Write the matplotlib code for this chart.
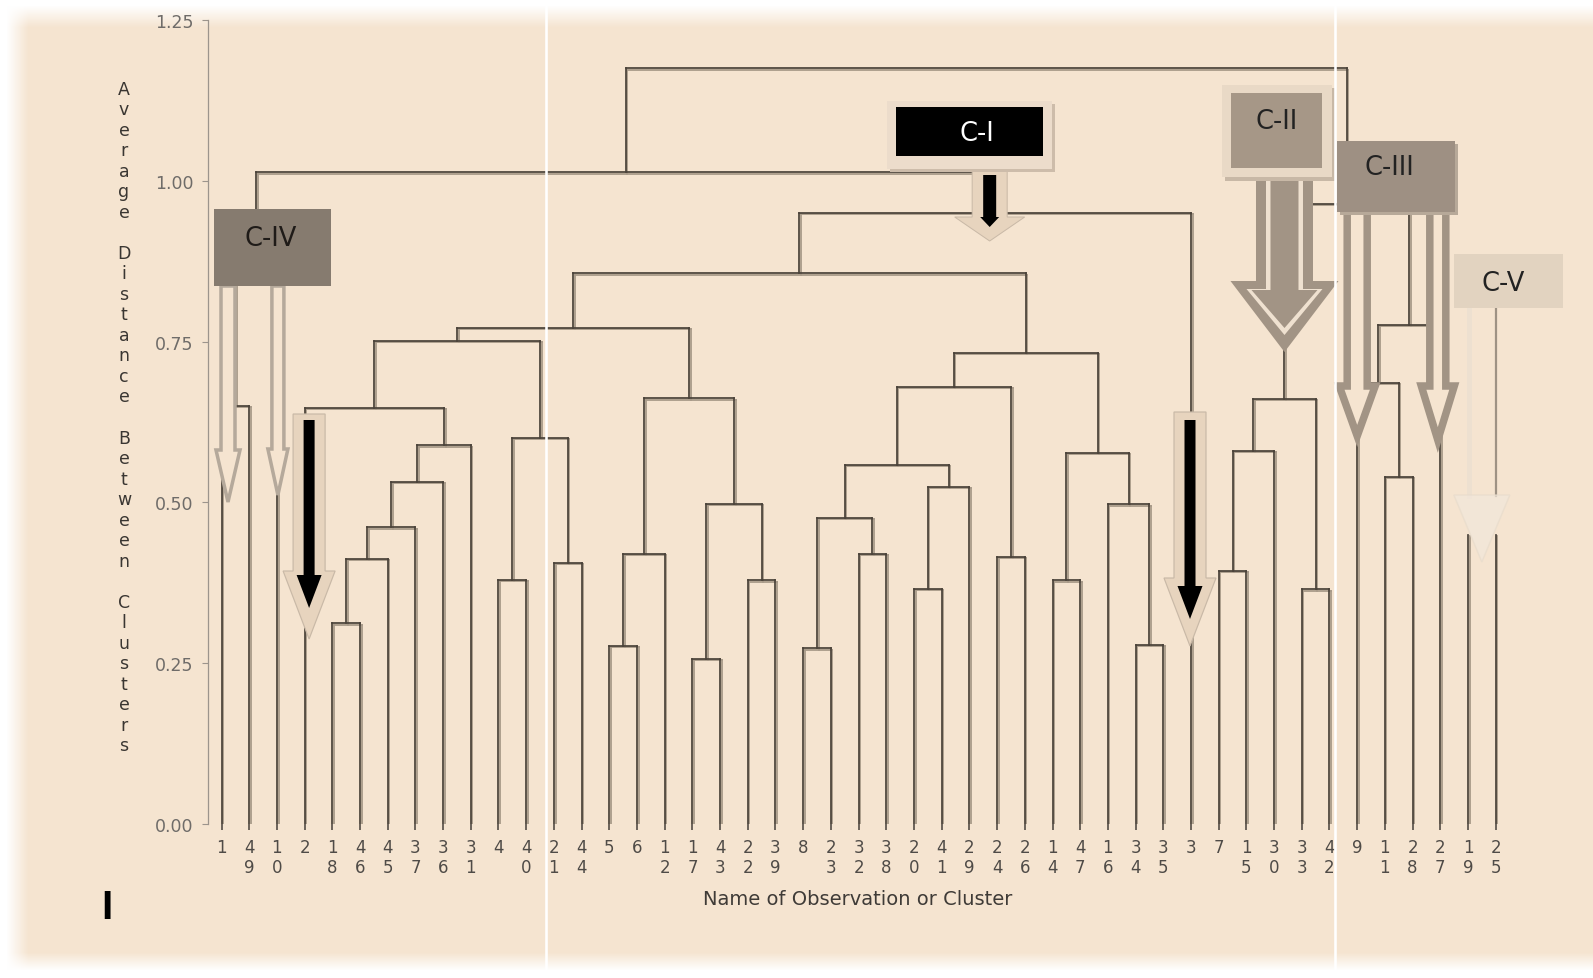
import numpy as np
import matplotlib
matplotlib.use("Agg")
import matplotlib.pyplot as plt
from matplotlib.patches import Polygon, Rectangle
from matplotlib.collections import LineCollection
import matplotlib.transforms as mtransforms

# ---------------- data ----------------
leaf_labels = ['1', '49', '10', '2', '18', '46', '45', '37', '36', '31', '4', '40',
               '21', '44', '5', '6', '12', '17', '43', '22', '39', '8', '23', '32',
               '38', '20', '41', '29', '24', '26', '14', '47', '16', '34', '35', '3',
               '7', '15', '30', '33', '42', '9', '11', '28', '27', '19', '25']

# merges: (cluster a, cluster b, height); 'Mk' refers to the k-th merge
merge_a = ['1', 'M0', '18', 'M2', 'M3', 'M4', 'M5', '2', '4', '21', 'M8', 'M7',
           '5', 'M12', '17', '22', 'M14', 'M13', 'M11', '8', '32', 'M19', '20', 'M22',
           'M21', '24', 'M24', '14', '34', '16', 'M27', 'M26', 'M18', 'M32', 'M1',
           '7', 'M35', '33', 'M36', '11', '9', 'M40', 'M38', 'M34']
merge_b = ['49', '10', '46', '45', '37', '36', '31', 'M6', '40', '44', 'M9', 'M10',
           '6', '12', '43', '39', 'M15', 'M16', 'M17', '23', '38', 'M20', '41', '29',
           'M23', '26', 'M25', '47', '35', 'M28', 'M29', 'M30', 'M31', '3', 'M33',
           '15', '30', '42', 'M37', '28', 'M39', '27', 'M41', 'M42']
merge_h = [0.650, 0.900, 0.312, 0.412, 0.461, 0.532, 0.589, 0.647, 0.380, 0.406, 0.600, 0.751,
           0.277, 0.420, 0.257, 0.379, 0.498, 0.662, 0.771, 0.273, 0.420, 0.476, 0.366, 0.524,
           0.558, 0.415, 0.680, 0.379, 0.279, 0.497, 0.577, 0.733, 0.856, 0.950, 1.013,
           0.394, 0.580, 0.365, 0.661, 0.540, 0.686, 0.776, 0.964, 1.175]

# leaves not joined in the drawn tree (cluster C-V), with their stub heights
stub_labels = ['19', '25']
stub_heights = [0.45, 0.45]

y_ticks = [0.00, 0.25, 0.50, 0.75, 1.00, 1.25]
cluster_names = ['C-I', 'C-II', 'C-III', 'C-IV', 'C-V']

# ---------------- figure ----------------
W, H = 1593, 979
fig = plt.figure(figsize=(W / 100, H / 100), dpi=100)
fig.patch.set_facecolor('white')
BEIGE = '#F5E4D0'
beige_rgb = np.array(matplotlib.colors.to_rgb(BEIGE))

# background with soft white edges
bg = fig.add_axes([0, 0, 1, 1], zorder=-5)
bg.set_axis_off()
xx = np.arange(W)[None, :]
yy = np.arange(H)[:, None]
def ramp(d, a, b):
    return np.clip((d - a) / (b - a), 0, 1)
mask = ramp(xx, 6, 28) * ramp(yy, 6, 28) * ramp(H - yy, 8, 26)
img = 1 - mask[..., None] * (1 - beige_rgb[None, None, :])
bg.imshow(img, extent=[0, W, H, 0], aspect='auto', interpolation='bilinear')
bg.set_xlim(0, W); bg.set_ylim(H, 0)

# main axes
x_left, x_right = -0.5, 47.6
x0_px, step = 221.5, 27.7
ax_l = x0_px + x_left * step
ax_r = x0_px + x_right * step
ax_bot, ax_top = 825, 21
ax = fig.add_axes([ax_l / W, (H - ax_bot) / H, (ax_r - ax_l) / W, (ax_bot - ax_top) / H])
ax.set_facecolor('none')
ax.set_xlim(x_left, x_right)
ax.set_ylim(0, 1.25)

# build dendrogram geometry
pos = {lab: float(i) for i, lab in enumerate(leaf_labels)}
hgt = {lab: 0.0 for lab in leaf_labels}
segs = []
for k, (a, b, h) in enumerate(zip(merge_a, merge_b, merge_h)):
    xa, ya, xb, yb = pos[a], hgt[a], pos[b], hgt[b]
    segs += [[(xa, ya), (xa, h)], [(xb, yb), (xb, h)], [(xa, h), (xb, h)]]
    pos[f'M{k}'] = (xa + xb) / 2
    hgt[f'M{k}'] = h
for lab, h in zip(stub_labels, stub_heights):
    segs.append([(pos[lab], 0), (pos[lab], h)])

shadow_tr = mtransforms.offset_copy(ax.transData, fig=fig, x=1.6, y=-1.4, units='dots')
ax.add_collection(LineCollection(segs, colors='#a89a89', linewidths=1.3,
                                 transform=shadow_tr, capstyle='projecting'))
ax.add_collection(LineCollection(segs, colors='#4a4239', linewidths=1.25,
                                 capstyle='projecting'))

for s in ['top', 'right', 'bottom']:
    ax.spines[s].set_visible(False)
ax.spines['left'].set_color('#9c948c')
ax.spines['left'].set_linewidth(0.9)
ax.set_yticks(y_ticks)
ax.set_yticklabels([f'{t:.2f}' for t in y_ticks], fontsize=12.5, color='#6f6c69',
                   family='DejaVu Sans')
ax.tick_params(axis='y', length=4, width=0.8, color='#9c948c', pad=6)
ax.set_xticks(range(len(leaf_labels)))
ax.set_xticklabels(['\n'.join(l) for l in leaf_labels], fontsize=12, color='#4f4b47',
                   family='DejaVu Sans', linespacing=1.12)
ax.tick_params(axis='x', length=4, width=1.4, color='#6b6259', pad=6)

ax.set_xlabel('Name of Observation or Cluster', fontsize=14, color='#3f3b37',
              family='DejaVu Sans')
ax.xaxis.set_label_coords((858 - ax_l) / (ax_r - ax_l), (ax_bot - 900) / (ax_bot - ax_top))
ax.xaxis.label.set_va('center')
ylab = 'Average Distance Between Clusters'
ax.set_ylabel('\n'.join(ylab), rotation=0, fontsize=12.5, color='#3a3632',
              family='DejaVu Sans', linespacing=1.18, ha='center', va='center')
ax.yaxis.set_label_coords((124 - ax_l) / (ax_r - ax_l), (ax_bot - 418) / (ax_bot - ax_top))

fig.text(107 / W, 1 - 908 / H, 'I', fontsize=29, fontweight='bold', color='black',
         family='Liberation Sans', ha='center', va='center')

# ---------------- annotation overlay (pixel coords, y down) ----------------
ov = fig.add_axes([0, 0, 1, 1], zorder=5)
ov.set_axis_off()
ov.set_xlim(0, W); ov.set_ylim(H, 0)
ov.patch.set_alpha(0)

def px(x, v):
    X, Y = ax.transData.transform((x, v))
    return X, H - Y

def arrow_pts(cx, top, tip, sw, hw, hl):
    hy = tip - hl
    return [(cx - sw, top), (cx + sw, top), (cx + sw, hy), (cx + hw, hy),
            (cx, tip), (cx - hw, hy), (cx - sw, hy)]

def poly(pts, fc, ec='none', lw=0, z=1, alpha=1.0):
    ov.add_patch(Polygon(pts, closed=True, fc=fc, ec=ec, lw=lw * 0.72, zorder=z,
                         joinstyle='miter', alpha=alpha))

def rect(x0, y0, x1, y1, fc, z=2, alpha=1.0):
    ov.add_patch(Rectangle((x0, y0), x1 - x0, y1 - y0, fc=fc, ec='none', zorder=z, alpha=alpha))

ARW = '#a29485'

# C-IV hollow arrows
cx1 = px(pos['1'], 0)[0] + 6.5
poly(arrow_pts(cx1, 287, 503, 7, 12, 52), BEIGE, '#b5a99b', 3.5)
cx2 = px(pos['10'], 0)[0] + 1
poly(arrow_pts(cx2, 287, 496, 6, 10, 46), BEIGE, '#b5a99b', 3.5)

# black arrows with light halos at leaves 2 and 3
for lab, dx, ht, hb, tip_h, tip_b in [('2', 4.5, 415, 421, 640, 609), ('3', -1, 413, 421, 647, 620)]:
    cx = px(pos[lab], 0)[0] + dx
    poly(arrow_pts(cx, ht, tip_h, 16, 26, 68), '#e7d4be', '#c9b9a7', 1.2, z=1)
    poly(arrow_pts(cx, hb, tip_b, 5.5, 12.5, 33), 'black', z=1.5)

# C-I arrow
cI = px(pos['M33'], 0)[0] - 5.5
poly(arrow_pts(cI, 168, 242, 17.5, 35, 24), '#e7d4be', '#c9b9a7', 1.0, z=1)
poly(arrow_pts(cI, 176, 228, 6.5, 9.5, 10), 'black', z=1.5)

# C-II compound arrow
cII = px(pos['M38'], 0)[0]
poly(arrow_pts(cII, 176, 353, 28.5, 54, 71), ARW, z=1)
poly(arrow_pts(cII, 176, 336, 18.5, 38, 46), '#efe1d0', z=1.2)
poly(arrow_pts(cII, 176, 329, 14, 33, 38), ARW, z=1.4)

# C-III hollow arrows
c9 = px(pos['9'], 0)[0]
poly(arrow_pts(c9, 212, 437, 10, 18, 50), BEIGE, ARW, 7.5, z=1)
c27 = px(pos['27'], 0)[0] - 2.5
poly(arrow_pts(c27, 212, 441, 8, 16.5, 54), BEIGE, ARW, 7.5, z=1)

# C-V arrow (faint)
cV = (px(pos['19'], 0)[0] + px(pos['25'], 0)[0]) / 2
ov.plot([cV - 13, cV - 13], [309, 497], color='#ede0d0', lw=3.5, zorder=1)
ov.plot([cV + 14.5, cV + 14.5], [309, 497], color='#9e9284', lw=1.6, zorder=1)
poly(arrow_pts(cV, 496, 563, 0, 28, 67)[2:], '#f2e7da', '#e8dccc', 1.5, z=1, alpha=0.7)

# boxes
TXT = dict(fontsize=18.5, ha='center', va='center', zorder=3, family='DejaVu Sans')
# C-IV
rect(214, 210, 331, 287, '#867b6f')
ov.text(271, 239, 'C-IV', color='#1f1b18', **TXT)
# C-I
rect(890, 105, 1055, 173, '#cdbcaa', z=1.9)
rect(887, 102, 1052, 170, '#ecdccb')
rect(896, 108, 1043, 157, 'black', z=2.1)
ov.text(977, 134, 'C-I', color='white', **TXT)
# C-II
rect(1225, 89, 1335, 182, '#c8b8a6', z=1.9)
rect(1222, 86, 1332, 178, '#e9d9c6')
rect(1231, 94, 1322, 169, '#a69787', z=2.1)
ov.text(1277, 122, 'C-II', color='#222', **TXT)
# C-III
rect(1340, 145, 1458, 216, '#b7a999', z=1.9)
rect(1337, 142, 1455, 213, '#9e9083')
ov.text(1389, 168, 'C-III', color='#222', **TXT)
# C-V
rect(1454, 255, 1563, 309, '#e2d3c0')
ov.text(1503, 284, 'C-V', color='#222', **TXT)

# white seams
for sx in [546, 1335]:
    ov.plot([sx, sx], [0, H], color='white', lw=2.6 * 0.72, zorder=10)

fig.savefig('out.png', dpi=100, facecolor=fig.get_facecolor())
